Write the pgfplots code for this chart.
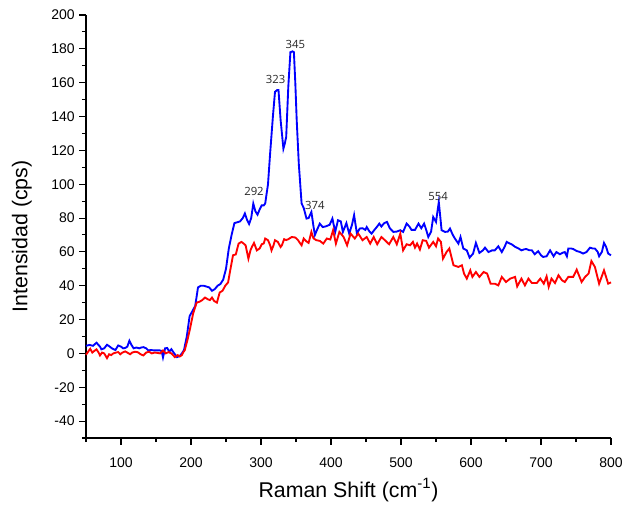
\documentclass[border=0pt]{standalone}
\usepackage{fontspec}
\setmainfont{Liberation Sans}
\newfontfamily\peakfont{Open Sans}
\usepackage{pgfplots}
\pgfplotsset{compat=1.18}

\begin{document}
\begin{tikzpicture}
\path[use as bounding box] (-64.5pt,-49.5pt) rectangle (402.75pt,328.5pt);
\begin{axis}[
    scale only axis,
    width=393.75pt, height=317.25pt,
    xmin=50, xmax=800, ymin=-50, ymax=200,
    axis lines*=left,
    axis line style={-, line width=0.8pt},
    every tick/.style={black, line width=0.8pt},
    tick align=outside,
    major tick length=5pt, minor tick length=3pt,
    xtick={100,200,...,800}, minor xtick={50,150,...,750},
    ytick={-40,-20,...,200}, minor ytick={-50,-30,...,190},
    tick label style={font=\fontsize{10.5}{12}\selectfont},
    xticklabel style={yshift=-6pt},
    /pgf/number format/assume math mode=true,
    xlabel={Raman Shift (cm\textsuperscript{-1})},
    ylabel={Intensidad (cps)},
    label style={font=\fontsize{16}{18}\selectfont},
    xlabel style={at={(axis description cs:0.5,-0.123)}, anchor=center},
    ylabel style={at={(axis description cs:-0.122,0.477)}, anchor=center},
    clip=false,
]
% blue spectrum
\addplot[blue, line width=1.4pt] coordinates {
(50,4.5) (55,5) (60,4.5) (65,6.3) (70,4) (72,2.4) (76,3) (80,5.1) (84,4) (87,3)
(92,2) (96,4.7) (100,4) (103,3) (106,3.2) (109,4) (112,7.5) (115,5) (118,3) (122,3.5)
(126,3) (129,3.5) (132,3.7) (136,3) (139,1.8) (143,2) (147,1.8) (151,1.8) (155,1.8) (158,1.5)
(160,-2.4) (163,3) (166,3.2) (169,1) (172,2.5) (176,0) (180,-2.2) (184,-1.5) (187,0) (190,2)
(194,10) (198,22) (202,25) (206,28) (210,39) (214,40) (218,40) (222,39.5) (226,39) (230,37)
(234,38) (238,40) (242,41) (246,43.6) (250,50) (254,62) (258,70) (262,77) (266,77.5) (270,78)
(274,80) (277,82.7) (280,79) (283,76.5) (286,80) (289,88.5) (292,84) (295,82) (298,85) (301,87.5)
(304,87.5) (306,88.6) (310,100) (313,118) (317,140) (320,154.6) (323,155.6) (325,155.6) (328,138) (332,121)
(334,124) (336,128) (339,157.6) (342,178) (345,178.5) (347,178) (349,160) (351,138) (354,112) (358,88.6)
(361,86) (365,79.7) (368,80) (372,83.6) (375,75) (377,70) (380,73) (384,76.7) (388,74.7) (392,75)
(395,75.5) (398,76) (402,79.7) (406,71.8) (410,78.7) (414,78) (417,71.8) (422,77) (426,70.8) (430,76)
(433,81.7) (437,70.8) (441,73.8) (445,74) (449,73) (451,74.7) (455,72) (458,70.8) (462,73) (466,75)
(469,76.7) (472,75) (476,77) (480,77.7) (484,74) (489,71.8) (494,72) (499,72.8) (503,71.8) (508,76.7)
(512,75) (515,73) (520,73) (525,76.7) (529,74) (533,76.7) (536,73) (539,68.8) (543,72) (546,80.6)
(550,77.7) (554,89.5) (558,72.8) (563,71.8) (567,72) (570,73.8) (574,70) (577,67.9) (582,64.9) (585,68.8)
(589,62) (594,60.9) (598,56.6) (603,59) (607,65.3) (612,59.4) (617,60.9) (620,62.5) (625,59.9) (630,60.9)
(634,60.9) (639,63.3) (644,59.9) (648,63) (651,65.9) (655,65) (658,64.5) (663,63) (668,62) (672,60.9)
(676,61.5) (679,61.7) (683,61) (687,60.9) (691,58.6) (696,60.4) (700,58) (703,57) (708,57.4) (713,60.9)
(718,57.4) (722,59.9) (727,58.6) (731,59.5) (734,59.9) (737,57.4) (739,62) (743,62) (746,61.7) (751,60.5)
(756,59.9) (760,59) (765,59.9) (770,62.5) (774,62) (777,62) (781,60) (783,57.4) (787,60) (790,65.3)
(793,63) (796,59) (800,58)
};
% red spectrum
\addplot[red, line width=1.4pt] coordinates {
(50,-0.8) (53,1) (56,2.7) (59,0.5) (62,1.5) (65,2.4) (68,0.5) (70,-1.2) (73,0.5) (76,0)
(80,-2.8) (83,-0.5) (86,-1) (89,0) (93,0.5) (96,0.8) (99,-0.5) (102,0.5) (106,1.2) (109,0.5)
(113,-0.5) (116,0.5) (120,1) (124,0.7) (128,-0.5) (132,-1.2) (136,0.5) (140,1) (144,0) (148,0.5)
(152,0.3) (156,0) (160,1.8) (164,0) (168,0.8) (172,0) (177,-2.2) (181,-1) (184,-1.8) (187,-1)
(189,0.8) (191,1.8) (195,8) (198.6,14.6) (203,23.5) (208,30) (212,30.5) (216,31.5) (220,33) (224,32)
(227,31.5) (230,33) (233,31) (237,30) (241,36) (245,37) (249,40) (253,42) (256,49) (260,58)
(264,58.5) (268,64.9) (272,65.9) (275,65) (278,63.9) (282,56) (285,61) (287,62.9) (290,65.3) (294,60.9)
(298,62) (301,64.5) (304,65) (306,67.9) (310,66.9) (313,64) (315,60.9) (318,64) (320,66.9) (324,65.9)
(328,62.9) (330,64) (333,67.5) (336,67) (339,67.5) (344,68.8) (349,68.5) (353,66.9) (356,65) (358,63.9)
(361,67.9) (364,66.5) (368,65.3) (372,71.8) (375,68) (379,66.9) (384,66.5) (389,64.9) (394,67.9) (399,67.3)
(403,72.8) (407,64.9) (412,71.8) (418,68.8) (423,63.9) (428,70.8) (434,67.9) (439,70.8) (445,66.9) (451,68.8)
(456,64.9) (461,68.8) (466,64.5) (472,68.8) (477,66.9) (483,64.5) (489,68.8) (494,64.5) (499,70.8) (503,60.9)
(508,64.5) (513,63.9) (517,65.9) (520,62.5) (523,64.9) (527,61.4) (531,66.9) (536,66.5) (540,62.5) (546,65.9)
(550,63.3) (553,67.9) (557,65.9) (560,56) (565,59.9) (569,62) (575,52.1) (582,51.1) (587,52.1) (590,47.2)
(594,44.2) (599,49.1) (602,45.2) (607,48.1) (612,45.2) (618,48.1) (623,47.2) (628,41.2) (634,41.2) (639,40.2)
(644,45.2) (650,42.2) (656,44.2) (663,45.2) (666,39.6) (672,44.2) (677,40.2) (682,44.2) (687,41.6) (694,41.6)
(699,44.2) (704,41.2) (708,45.5) (711,39.3) (715,44.2) (720,41.6) (725,46.2) (730,43.2) (734,42.2) (739,45.2)
(746,45.2) (751,49.5) (758,42.2) (763,45.2) (768,47.2) (772,54.6) (777,51.1) (783,41.2) (790,49.1) (796,41.2)
(800,42)
};
% peak labels
\begin{scope}[every node/.style={font=\peakfont\fontsize{8.5}{9}\selectfont, text=black!85}]
\node at (axis cs:290,95.5) {292};
\node at (axis cs:321,162) {323};
\node at (axis cs:349,182.5) {345};
\node at (axis cs:377,87.5) {374};
\node at (axis cs:553,93) {554};
\end{scope}
\end{axis}
\end{tikzpicture}
\end{document}
